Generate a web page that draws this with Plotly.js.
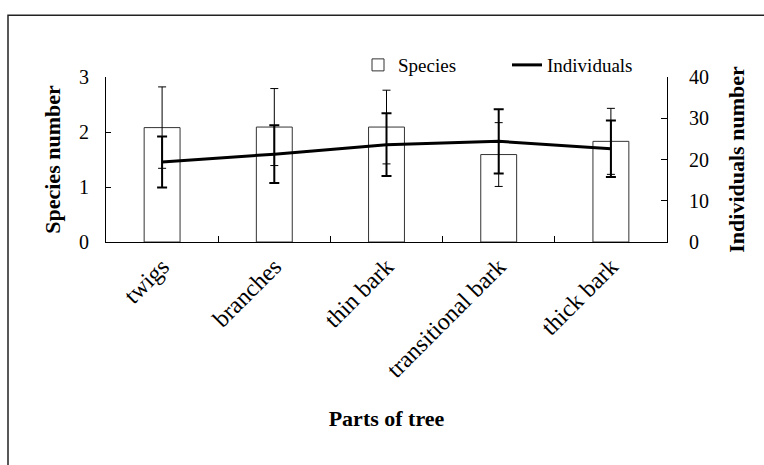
<!DOCTYPE html>
<html>
<head>
<meta charset="utf-8">
<script src="https://cdn.plot.ly/plotly-3.0.1.min.js"></script>
<style>html,body{margin:0;padding:0;background:#fff;}</style>
</head>
<body>
<div id="chart" style="width:764px;height:465px;"></div>
<script>
const categories = ['twigs', 'branches', 'thin bark', 'transitional bark', 'thick bark'];
const speciesNumber = [2.08, 2.09, 2.09, 1.59, 1.83];
const speciesError = [0.74, 0.70, 0.67, 0.58, 0.60];
const individualsNumber = [19.4, 21.3, 23.6, 24.4, 22.6];
const individualsError = [6.2, 7.0, 7.6, 7.8, 6.85];
const speciesTicks = [0, 1, 2, 3];
const individualsTicks = [0, 10, 20, 30, 40];

const serif = 'Liberation Serif, Times New Roman, serif';

const traces = [
  {
    type: 'bar', name: 'Species', x: categories, y: speciesNumber, yaxis: 'y',
    width: 0.32,
    marker: {color: '#ffffff', line: {color: '#333333', width: 1}},
    error_y: {type: 'data', array: speciesError, visible: true, color: '#000', thickness: 1, width: 4}
  },
  {
    type: 'scatter', mode: 'lines', name: 'Individuals', x: categories, y: individualsNumber, yaxis: 'y2',
    line: {color: '#000', width: 3},
    error_y: {type: 'data', array: individualsError, visible: true, color: '#000', thickness: 2, width: 5}
  }
];

const layout = {
  width: 764, height: 465,
  margin: {l: 106, r: 97, t: 77, b: 222.5, autoexpand: false},
  paper_bgcolor: '#fff', plot_bgcolor: '#fff',
  font: {family: serif, color: '#000', size: 18},
  showlegend: true,
  legend: {
    orientation: 'h', x: (358 - 106) / 561, xanchor: 'left', y: (242.5 - 65) / 165.5, yanchor: 'middle',
    font: {family: serif, size: 19, color: '#000'}, bgcolor: 'rgba(0,0,0,0)', entrywidth: 104, traceorder: 'normal'
  },
  xaxis: {
    type: 'category', range: [-0.5, 4.5], showline: true, linecolor: '#000', linewidth: 1,
    ticks: 'inside', tickson: 'boundaries', ticklen: 6, tickcolor: '#000', tickangle: -45,
    tickfont: {family: serif, size: 24, color: '#000'}, showgrid: false, zeroline: false, automargin: false,
    title: {text: 'Parts of tree', font: {family: serif, size: 22, color: '#000', weight: 'bold'}, standoff: 29}
  },
  yaxis: {
    range: [0, 3], tickvals: speciesTicks, showline: true, linecolor: '#000', linewidth: 1,
    ticks: 'inside', ticklen: 5, tickcolor: '#000', showgrid: false, zeroline: false, automargin: false,
    tickfont: {family: serif, size: 20, color: '#000'}, ticklabelstandoff: 12,
    title: {text: 'Species number', font: {family: serif, size: 22, color: '#000', weight: 'bold'}, standoff: 12}
  },
  yaxis2: {
    range: [0, 40], tickvals: individualsTicks, overlaying: 'y', side: 'right', showline: true, linecolor: '#000', linewidth: 1,
    ticks: 'inside', ticklen: 6, tickcolor: '#000', showgrid: false, zeroline: false, automargin: false,
    tickfont: {family: serif, size: 20, color: '#000'}, ticklabelstandoff: 17,
    title: {text: 'Individuals number', font: {family: serif, size: 22, color: '#000', weight: 'bold'}, standoff: 20}
  },
  shapes: [{
    type: 'rect', xref: 'paper', yref: 'paper', layer: 'below',
    x0: (8 - 106) / 561, x1: 1.4, y0: -1.6, y1: (242.5 - 15) / 165.5,
    line: {color: '#222', width: 1.5}, fillcolor: 'rgba(0,0,0,0)'
  }]
};

Plotly.newPlot('chart', traces, layout, {staticPlot: true, displayModeBar: false});
</script>
</body>
</html>
